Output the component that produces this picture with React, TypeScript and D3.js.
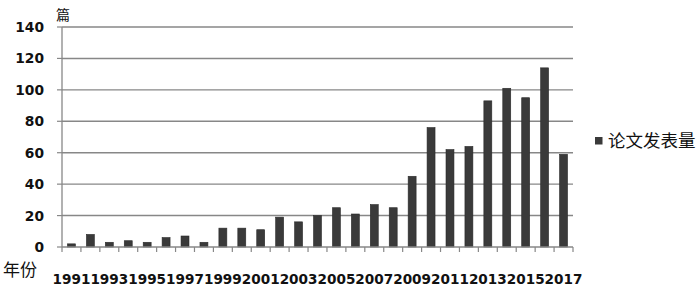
import React from "react";
import * as d3 from "d3";

const years: string[] = [
  "1991","1992","1993","1994","1995","1996","1997","1998","1999","2000",
  "2001","2002","2003","2004","2005","2006","2007","2008","2009","2010",
  "2011","2012","2013","2014","2015","2016","2017",
];
const papers: number[] = [
  2, 8, 3, 4, 3, 6, 7, 3, 12, 12,
  11, 19, 16, 20, 25, 21, 27, 25, 45, 76,
  62, 64, 93, 101, 95, 114, 59,
];
const yTicks: number[] = [0, 20, 40, 60, 80, 100, 120, 140];
const seriesName = "论文发表量";
const yUnit = "篇";
const xUnit = "年份";

const W = 700;
const H = 290;
const left = 62;
const right = 573;
const top = 27;
const bottom = 247;

export default function App() {
  const x = d3.scaleBand<string>().domain(years).range([left, right]).padding(0);
  const y = d3.scaleLinear().domain([0, 140]).range([bottom, top]);
  const bw = x.bandwidth();
  const barW = bw * 0.42;
  const numFont = "'DejaVu Sans', Verdana, sans-serif";
  const cjkFont = "'Noto Sans CJK SC', sans-serif";
  const grid = "#878787";
  const boundaries = years.map((yr) => x(yr)!).concat([right]);
  const labelYears = years.filter((_, i) => i % 2 === 0);

  return (
    <svg
      width={W}
      height={H}
      style={{ position: "absolute", left: 0, top: 0, background: "#fff" }}
    >
      {yTicks.map((t) => (
        <g key={t}>
          {t > 0 && (
            <line x1={left} x2={right} y1={y(t)} y2={y(t)} stroke={grid} strokeWidth={1.4} />
          )}
          <line x1={left - 5} x2={left} y1={y(t)} y2={y(t)} stroke={grid} strokeWidth={1.2} />
          <text
            x={44}
            y={y(t)}
            dy="0.36em"
            textAnchor="end"
            fontFamily={numFont}
            fontWeight="bold"
            fontSize={13.8}
            fill="#111"
          >
            {t}
          </text>
        </g>
      ))}
      <line x1={left} x2={left} y1={top} y2={bottom} stroke={grid} strokeWidth={1.3} />
      {years.map((yr, i) => (
        <rect
          key={yr}
          x={x(yr)! + (bw - barW) / 2}
          y={y(papers[i])}
          width={barW}
          height={bottom - y(papers[i])}
          fill="#3a3a3a"
          stroke="#2a2a2a"
          strokeWidth={0.6}
        />
      ))}
      <line x1={left} x2={right} y1={bottom} y2={bottom} stroke={grid} strokeWidth={1.4} />
      {boundaries.map((bx, i) => (
        <line key={i} x1={bx} x2={bx} y1={bottom} y2={bottom + 5} stroke={grid} strokeWidth={1.2} />
      ))}
      {labelYears.map((yr) => (
        <text
          key={yr}
          x={x(yr)! + bw / 2}
          y={284}
          textAnchor="middle"
          fontFamily={numFont}
          fontWeight="bold"
          fontSize={13.6}
          fill="#111"
        >
          {yr}
        </text>
      ))}
      <text x={56} y={20} fontFamily={cjkFont} fontSize={14} fill="#111">
        {yUnit}
      </text>
      <text x={3} y={276} fontFamily={cjkFont} fontSize={17} fill="#111">
        {xUnit}
      </text>
      <rect x={595} y={137} width={7.5} height={7.5} fill="#3a3a3a" />
      <text x={608} y={141} dy="0.36em" fontFamily={cjkFont} fontSize={17.5} fill="#111">
        {seriesName}
      </text>
    </svg>
  );
}
